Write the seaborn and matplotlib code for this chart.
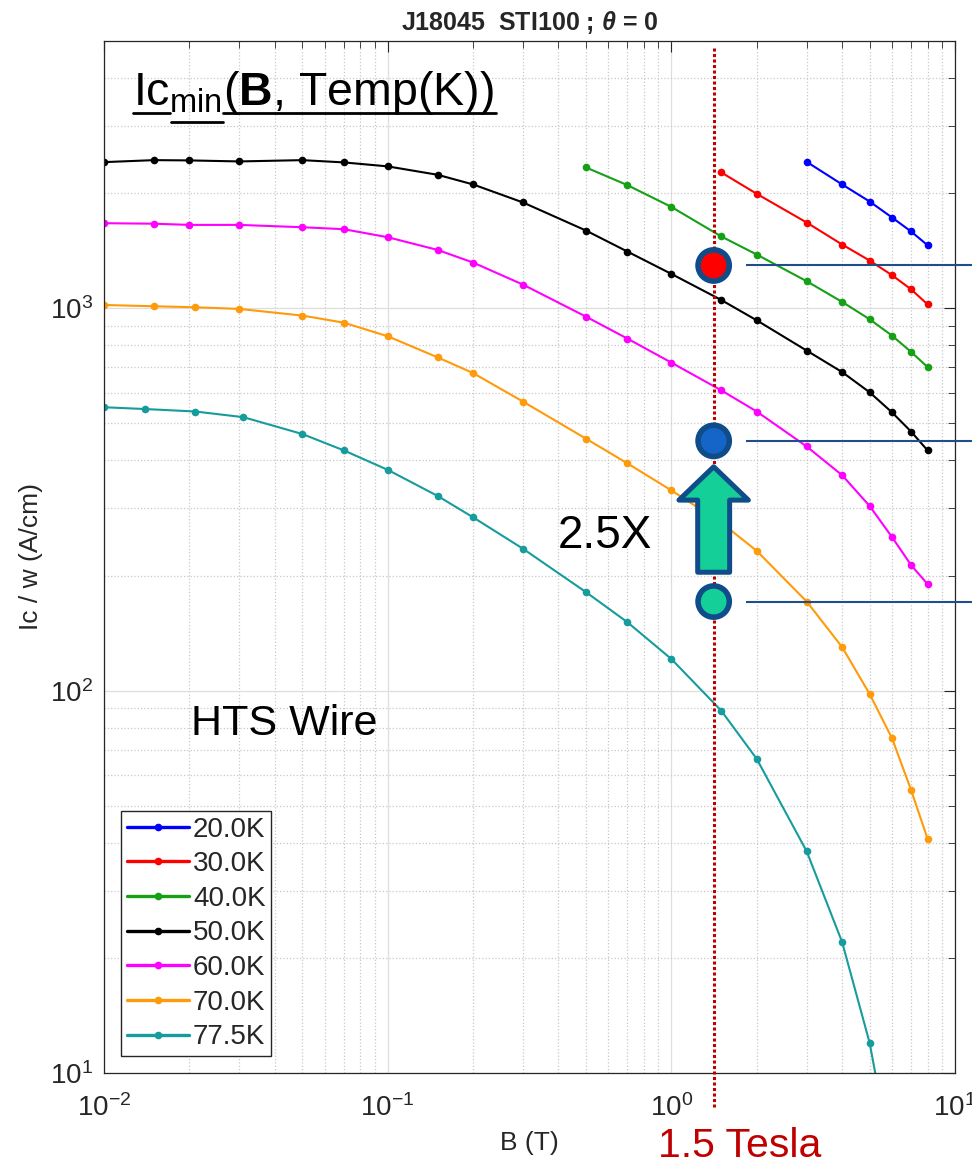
import matplotlib
matplotlib.use('Agg')
import matplotlib.pyplot as plt
from matplotlib.lines import Line2D
from matplotlib.ticker import NullFormatter
import seaborn as sns

# Critical current per width vs field, one list per temperature
B_20 = [3, 4, 5, 6, 7, 8]
ic_20 = [2415, 2108, 1902, 1727, 1588, 1462]

B_30 = [1.5, 2, 3, 4, 5, 6, 7, 8]
ic_30 = [2266, 1992, 1676, 1468, 1333, 1220, 1121, 1024]

B_40 = [0.5, 0.7, 1, 1.5, 2, 3, 4, 5, 6, 7, 8]
ic_40 = [2335, 2099, 1841, 1541, 1382, 1177, 1039, 936, 848, 769, 702]

B_50 = [0.01, 0.015, 0.02, 0.03, 0.05, 0.07, 0.1, 0.15, 0.2, 0.3, 0.5, 0.7, 1, 1.5, 2, 3, 4, 5, 6, 7, 8]
ic_50 = [2411, 2440, 2436, 2421, 2440, 2407, 2350, 2234, 2108, 1891, 1597, 1407, 1230, 1051, 930, 775, 681,
         603, 534, 476, 425]

B_60 = [0.01, 0.015, 0.02, 0.03, 0.05, 0.07, 0.1, 0.15, 0.2, 0.3, 0.5, 0.7, 1, 1.5, 2, 3, 4, 5, 6, 7, 8]
ic_60 = [1669, 1664, 1652, 1652, 1629, 1610, 1534, 1421, 1317, 1153, 951, 833, 721, 610, 537, 435, 366,
         304, 252, 213, 190]

B_70 = [0.01, 0.015, 0.021, 0.03, 0.05, 0.07, 0.1, 0.15, 0.2, 0.3, 0.5, 0.7, 1, 1.5, 2, 3, 4, 5, 6, 7, 8]
ic_70 = [1020, 1012, 1006, 996, 957, 917, 845, 744, 677, 570, 456, 393, 334, 275, 232, 171, 130,
         98, 75, 55, 41]

B_77 = [0.01, 0.014, 0.021, 0.031, 0.05, 0.07, 0.1, 0.15, 0.2, 0.3, 0.5, 0.7, 1, 1.5, 2, 3, 4, 5, 6]
ic_77 = [551, 545, 537, 519, 469, 425, 378, 323, 284, 235, 181, 151, 121, 88.6, 66.3, 38.0, 22.0, 12.0, 5.8]

labels = ['20.0K', '30.0K', '40.0K', '50.0K', '60.0K', '70.0K', '77.5K']
colors = ['#0000FF', '#FF0000', '#16A016', '#000000', '#FF00FF', '#FF9A0A', '#169C9C']

# 1.5 T overlay: highlighted values and the 2.5X arrow
B_tesla = 1.41
marker_vals = [1294, 450, 171]
marker_colors = ['#FF0000', '#1565C8', '#14CF98']
arrow_tip, arrow_tail = 385, 204
hline_start, hline_end = 1.83, 11.47
vline_top, vline_bottom = 4790, 8.15

sns.set_style('white')
plt.rcParams['font.family'] = ['Liberation Sans', 'DejaVu Sans']
plt.rcParams['mathtext.fontset'] = 'custom'
plt.rcParams['mathtext.rm'] = 'Liberation Sans'
plt.rcParams['mathtext.bf'] = 'Liberation Sans:bold'
plt.rcParams['mathtext.it'] = 'Liberation Sans:italic:bold'
plt.rcParams['axes.unicode_minus'] = False

W, H = 972, 1170
fig = plt.figure(figsize=(W / 100, H / 100), dpi=100)
ax = fig.add_axes([104 / W, 97 / H, 851 / W, 1032 / H])

series = [(B_20, ic_20), (B_30, ic_30), (B_40, ic_40), (B_50, ic_50),
          (B_60, ic_60), (B_70, ic_70), (B_77, ic_77)]
for (b, ic), lab, col in zip(series, labels, colors):
    sns.lineplot(x=b, y=ic, ax=ax, color=col, label=lab, marker='o', markersize=5.5,
                 markeredgewidth=0, linewidth=1.5, estimator=None, sort=False)

ax.set_xscale('log')
ax.set_yscale('log')
ax.set_xlim(1e-2, 1e1)
ax.set_ylim(10, 5000)
ax.xaxis.set_minor_formatter(NullFormatter())
ax.yaxis.set_minor_formatter(NullFormatter())

# grid and ticks like the MATLAB original
ax.grid(which='major', color='#DEDEDE', linestyle='-', linewidth=0.9)
ax.grid(which='minor', color='#C8C8C8', linestyle=':', linewidth=0.9)
ax.tick_params(which='both', direction='in', top=True, right=True, colors='#262626', labelsize=20)
ax.tick_params(which='major', length=8, width=0.8)
ax.tick_params(which='minor', length=5, width=0.6)
ax.tick_params(axis='x', which='major', pad=15)
ax.tick_params(axis='y', which='major', pad=8)
for s in ax.spines.values():
    s.set_color('#262626')
    s.set_linewidth(0.9)

ax.set_xlabel('B (T)', fontsize=19, color='#262626', labelpad=7)
ax.set_ylabel('Ic / w (A/cm)', fontsize=19, color='#262626', labelpad=5)
ax.set_title(r'J18045  STI100 ; $\theta$ = 0', fontsize=18, fontweight='bold', color='#262626', pad=8)

leg = ax.legend(loc='lower left', fontsize=20, frameon=True, fancybox=False, edgecolor='#262626',
                framealpha=1, borderpad=0.2, labelspacing=0.31, handlelength=2.23,
                handletextpad=0.15, borderaxespad=0.62)
leg.get_frame().set_linewidth(1.0)
for h in leg.legend_handles:
    h.set_linewidth(2.4)

# overlay at 1.5 Tesla
ax.plot([B_tesla, B_tesla], [vline_top, vline_bottom], color='#C00000', linewidth=2.2,
        dashes=(1, 0.8), clip_on=False, zorder=4)
ax.hlines(marker_vals, hline_start, hline_end, colors='#1F4E8C', linewidth=1.5, clip_on=False, zorder=4)
ax.annotate('', xy=(B_tesla, arrow_tip), xytext=(B_tesla, arrow_tail), annotation_clip=False,
            arrowprops=dict(arrowstyle='simple,head_length=24,head_width=50,tail_width=23',
                            mutation_scale=1, fc='#14CF98', ec='#0F4C8A', lw=3.6,
                            shrinkA=0, shrinkB=0), zorder=5)
ax.scatter([B_tesla] * len(marker_vals), marker_vals, s=506, c=marker_colors, edgecolors='#0F4C8A',
           linewidths=4, clip_on=False, zorder=6)


def px(x, y):
    return x / W, 1 - y / H


fig.text(*px(133, 105), r'Ic$_{\mathregular{min}}$($\mathbf{B}$, Temp(K))', fontsize=33.5,
         va='baseline', ha='left', color='black')
for x0, x1, y in [(133, 170, 113.3), (171, 222.7, 121.7), (223, 496, 113.3)]:
    fig.add_artist(Line2D([x0 / W, x1 / W], [1 - y / H, 1 - y / H], transform=fig.transFigure,
                          color='black', linewidth=2))

fig.text(*px(190.7, 735), 'HTS Wire', fontsize=31, va='baseline', ha='left', color='black')
fig.text(*px(558, 548), '2.5X', fontsize=33, va='baseline', ha='left', color='black')
fig.text(*px(658, 1157), '1.5 Tesla', fontsize=29.5, va='baseline', ha='left', color='#C00000')

fig.savefig('out.png', dpi=100)
